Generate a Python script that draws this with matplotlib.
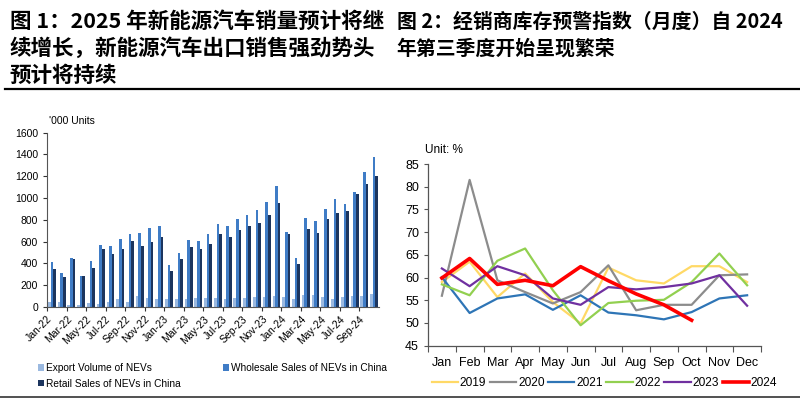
import numpy as np
import matplotlib.pyplot as plt
from matplotlib.lines import Line2D

plt.rcParams['font.family'] = ['Liberation Sans', 'Noto Sans CJK SC', 'DejaVu Sans']

# chart 1 data, '000 units, Jan-22 .. Oct-24
export_nev = [50, 45, 20, 15, 35, 30, 50, 75, 45, 100, 80, 70,
              70, 75, 70, 85, 80, 80, 70, 80, 85, 95, 90, 100,
              90, 70, 110, 110, 90, 75, 90, 100, 100, 115]
wholesale_nev = [410, 315, 452, 280, 421, 570, 561, 627, 673, 676, 727, 748,
                 388, 495, 619, 607, 674, 764, 742, 805, 840, 892, 965, 1114,
                 684, 447, 815, 792, 902, 988, 948, 1059, 1239, 1373]
retail_nev = [348, 272, 442, 280, 357, 528, 486, 528, 608, 556, 598, 640,
              332, 440, 547, 528, 580, 666, 646, 706, 748, 772, 844, 951,
              670, 392, 713, 676, 808, 863, 884, 1034, 1129, 1202]
month_ticks = ['Jan-22', 'Mar-22', 'May-22', 'Jul-22', 'Sep-22', 'Nov-22',
               'Jan-23', 'Mar-23', 'May-23', 'Jul-23', 'Sep-23', 'Nov-23',
               'Jan-24', 'Mar-24', 'May-24', 'Jul-24', 'Sep-24']

# chart 2 data, dealer inventory warning index (%)
months = ['Jan', 'Feb', 'Mar', 'Apr', 'May', 'Jun', 'Jul', 'Aug', 'Sep', 'Oct', 'Nov', 'Dec']
idx_2019 = [59.0, 63.5, 55.7, 60.9, 54.6, 49.9, 62.2, 59.4, 58.7, 62.5, 62.5, 59.0]
idx_2020 = [56.0, 81.5, 59.4, 56.8, 54.3, 56.8, 62.7, 52.8, 54.0, 54.0, 60.5, 60.7]
idx_2021 = [60.1, 52.2, 55.4, 56.3, 52.9, 56.1, 52.3, 51.7, 50.8, 52.4, 55.4, 56.1]
idx_2022 = [58.5, 56.1, 63.7, 66.4, 57.2, 49.5, 54.4, 54.9, 55.1, 59.0, 65.3, 58.3]
idx_2023 = [62.0, 58.1, 62.5, 60.5, 55.4, 54.0, 57.9, 57.4, 57.9, 58.7, 60.5, 53.8]
idx_2024 = [59.9, 64.2, 58.5, 59.4, 58.2, 62.4, 59.3, 56.4, 54.0, 50.6]

fig = plt.figure(figsize=(8, 3.98), dpi=100)

# titles
cjk = ['Noto Sans CJK SC', 'DejaVu Sans']
fig.text(0.012, 1 - 21 / 398, '图 1：2025 年新能源汽车销量预计将继', fontsize=15.5,
         fontweight='bold', family=cjk, va='center', ha='left')
fig.text(0.012, 1 - 48 / 398, '续增长，新能源汽车出口销售强劲势头', fontsize=15.5,
         fontweight='bold', family=cjk, va='center', ha='left')
fig.text(0.012, 1 - 75 / 398, '预计将持续', fontsize=15.5,
         fontweight='bold', family=cjk, va='center', ha='left')
fig.text(0.496, 1 - 21 / 398, '图 2：经销商库存预警指数（月度）自 2024', fontsize=14.3,
         fontweight='bold', family=cjk, va='center', ha='left')
fig.text(0.496, 1 - 48 / 398, '年第三季度开始呈现繁荣', fontsize=14.3,
         fontweight='bold', family=cjk, va='center', ha='left')

fig.add_artist(Line2D([0.006, 1.0], [1 - 89 / 398] * 2, color='black', lw=1.6))
fig.add_artist(Line2D([0.0, 1.0], [1 - 396.5 / 398] * 2, color='#333333', lw=1.2))

# left chart
ax1 = fig.add_axes([47 / 800, 1 - 307 / 398, 332 / 800, 174.3 / 398])
x = np.arange(len(wholesale_nev))
w = 0.27
b_exp = ax1.bar(x - w, export_nev, w, color='#9BB9E0', label='Export Volume of NEVs')
b_whs = ax1.bar(x, wholesale_nev, w, color='#3F7CC6', label='Wholesale Sales of NEVs in China')
b_ret = ax1.bar(x + w, retail_nev, w, color='#1C355E', label='Retail Sales of NEVs in China')
ax1.set_xlim(-0.5, len(wholesale_nev) - 0.5)
ax1.set_ylim(0, 1600)
ax1.set_yticks(range(0, 1601, 200))
ax1.set_xticks(np.arange(0, len(wholesale_nev), 2) - 0.5)
ax1.set_xticklabels(month_ticks, rotation=45, ha='right', rotation_mode='anchor')
ax1.tick_params(axis='both', labelsize=7.5, direction='out', length=3, width=0.8, colors='#333333',
                labelcolor='black')
ax1.tick_params(axis='x', pad=2)
for s in ['top', 'right']:
    ax1.spines[s].set_visible(False)
for s in ['left', 'bottom']:
    ax1.spines[s].set_color('#555555')
    ax1.spines[s].set_linewidth(0.8)
fig.text(49 / 800, 1 - 121 / 398, "'000 Units", fontsize=7.5, va='center', ha='left')
fig.legend([b_exp, b_ret, b_whs],
           ['Export Volume of NEVs', 'Retail Sales of NEVs in China', 'Wholesale Sales of NEVs in China'],
           ncol=2, loc='upper left', bbox_to_anchor=(33 / 800, 1 - 358 / 398), frameon=False,
           fontsize=7.3, handlelength=0.6, handleheight=0.6, handletextpad=0.2,
           columnspacing=4.1, labelspacing=0.55, borderpad=0)

# right chart
ax2 = fig.add_axes([428 / 800, 1 - 345.7 / 398, 333 / 800, 181.7 / 398])
xm = np.arange(len(months))
ax2.plot(xm, idx_2019, color='#FFD966', lw=1.6, label='2019')
ax2.plot(xm, idx_2020, color='#8C8C8C', lw=1.6, label='2020')
ax2.plot(xm, idx_2021, color='#2E75B6', lw=1.6, label='2021')
ax2.plot(xm, idx_2022, color='#92D050', lw=1.6, label='2022')
ax2.plot(xm, idx_2023, color='#7030A0', lw=1.6, label='2023')
ax2.plot(xm[:len(idx_2024)], idx_2024, color='#FF0000', lw=2.6, label='2024')
ax2.set_xlim(-0.5, 11.5)
ax2.set_ylim(45, 85)
ax2.set_yticks(range(45, 86, 5))
ax2.set_xticks(xm)
ax2.set_xticklabels(months)
ax2.set_xticks(np.arange(13) - 0.5, minor=True)
ax2.tick_params(axis='x', which='major', length=0, pad=8)
ax2.tick_params(axis='x', which='minor', length=4, width=0.8, color='#555555')
ax2.tick_params(axis='y', length=3, width=0.8, color='#555555')
ax2.tick_params(axis='both', labelsize=9)
for s in ['top', 'right']:
    ax2.spines[s].set_visible(False)
for s in ['left', 'bottom']:
    ax2.spines[s].set_color('#555555')
    ax2.spines[s].set_linewidth(0.9)
fig.text(425 / 800, 1 - 150 / 398, 'Unit: %', fontsize=8.5, va='center', ha='left')
ax2.legend(ncol=6, loc='center', bbox_to_anchor=(0.53, (345.7 - 383) / 181.7), frameon=False,
           fontsize=8.6, handlelength=2.2, handletextpad=0.15, columnspacing=0.3, borderpad=0)

fig.savefig('out.png', dpi=100)
